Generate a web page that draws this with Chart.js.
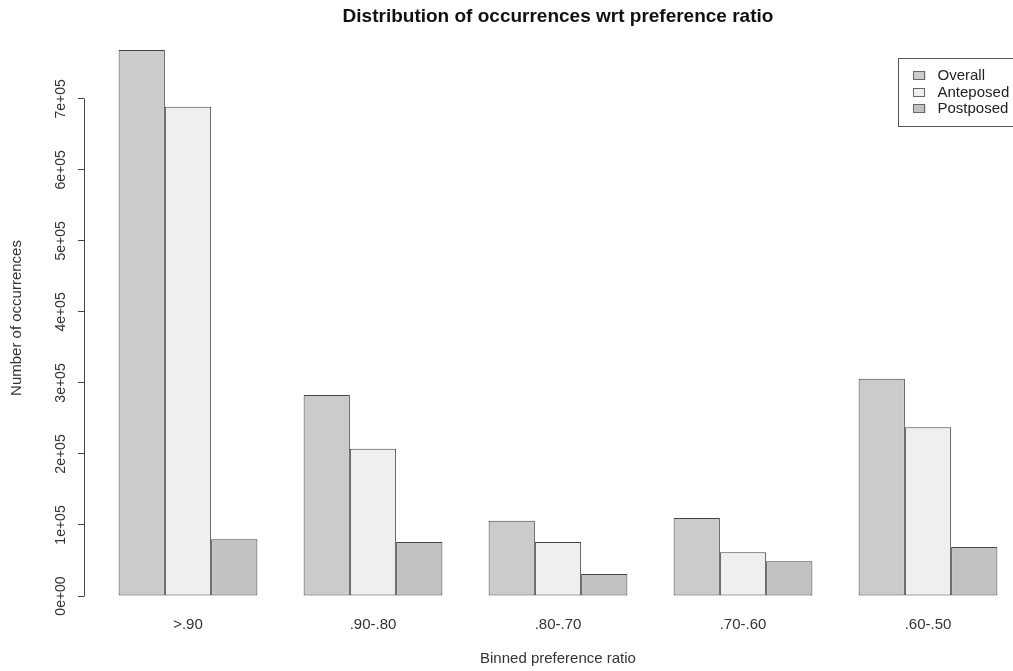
<!DOCTYPE html>
<html>
<head>
<meta charset="utf-8">
<script src="https://cdn.jsdelivr.net/npm/chart.js@4.4.0/dist/chart.umd.min.js"></script>
<style>
html, body { margin: 0; padding: 0; overflow: hidden; background: #fff; }
</style>
</head>
<body>
<canvas id="chart" width="1114" height="671"></canvas>
<script>
// data
var bins = ['>.90', '.90-.80', '.80-.70', '.70-.60', '.60-.50']
var overall = [769000, 283000, 106000, 110000, 306000]
var anteposed = [689000, 207500, 76000, 61500, 237500]
var postposed = [80000, 76000, 31000, 49000, 69000]
var y_ticks = [0, 100000, 200000, 300000, 400000, 500000, 600000, 700000]
var y_max = 783000

var font_family = "'Liberation Sans', Arial, Helvetica, sans-serif"

// R style labels: 0e+00, 1e+05 ...
function sciLabel(v){
    if (v == 0) return '0e+00'
    var exp = Math.floor(Math.log10(v))
    var mant = Math.round(v / Math.pow(10, exp) * 100) / 100
    return mant + 'e+' + (exp < 10 ? '0' + exp : exp)
}

// axis line only from first to last tick, like base R
var axisLine = {
    id: 'axisLine',
    afterDraw: function(chart){
        var s = chart.scales.y
        var ctx = chart.ctx
        var x = Math.floor(s.right) + 0.5
        var y0 = Math.floor(s.getPixelForValue(y_ticks[0])) + 0.5
        var y1 = Math.floor(s.getPixelForValue(y_ticks[y_ticks.length - 1])) + 0.5
        ctx.save()
        ctx.strokeStyle = '#444'
        ctx.lineWidth = 1
        ctx.beginPath()
        ctx.moveTo(x, y0)
        ctx.lineTo(x, y1)
        ctx.stroke()
        ctx.restore()
    }
}

// boxed legend in the top right corner of the plot
var boxLegend = {
    id: 'boxLegend',
    afterDraw: function(chart){
        var ctx = chart.ctx
        var area = chart.chartArea
        var left = area.right - 122
        var top = area.top + 18
        ctx.save()
        ctx.strokeStyle = '#555'
        ctx.lineWidth = 1
        ctx.strokeRect(Math.floor(left) + 0.5, Math.floor(top) + 0.5, 150, 68)
        ctx.font = '15px ' + font_family
        ctx.textBaseline = 'middle'
        chart.data.datasets.forEach(function(ds, i){
            var cy = Math.round(top + 17 + i * 16.5)
            ctx.fillStyle = ds.backgroundColor
            ctx.fillRect(left + 15, cy - 4, 12, 9)
            ctx.strokeStyle = '#666'
            ctx.strokeRect(Math.floor(left) + 15.5, cy - 3.5, 11, 8)
            ctx.fillStyle = '#222'
            ctx.fillText(ds.label, left + 39, cy + 1)
        })
        ctx.restore()
    }
}

var bar_border = '#444'

var chart = new Chart(document.getElementById('chart'), {
    type: 'bar',
    data: {
        labels: bins,
        datasets: [
            {label: 'Overall', data: overall, backgroundColor: '#cbcbcb', borderColor: bar_border, borderWidth: 1, borderSkipped: false},
            {label: 'Anteposed', data: anteposed, backgroundColor: '#efefef', borderColor: bar_border, borderWidth: 1, borderSkipped: false},
            {label: 'Postposed', data: postposed, backgroundColor: '#c2c2c2', borderColor: bar_border, borderWidth: 1, borderSkipped: false}
        ]
    },
    options: {
        responsive: false,
        animation: false,
        layout: {padding: {left: 0, right: 93.5, top: 0, bottom: 0}},
        datasets: {bar: {barPercentage: 1, categoryPercentage: 0.75}},
        plugins: {
            legend: {display: false},
            tooltip: {enabled: false},
            title: {
                display: true,
                fullSize: false,
                text: 'Distribution of occurrences wrt preference ratio',
                color: '#111',
                font: {family: font_family, size: 19, weight: 'bold'},
                padding: {top: 5.6, bottom: 11.6}
            }
        },
        scales: {
            x: {
                type: 'category',
                offset: true,
                afterFit: function(s){ s.height = 75 },
                grid: {display: false, drawTicks: false},
                border: {display: false},
                ticks: {
                    padding: 20,
                    autoSkip: false,
                    maxRotation: 0,
                    color: '#333',
                    font: {family: font_family, size: 15}
                },
                title: {
                    display: true,
                    text: 'Binned preference ratio',
                    color: '#333',
                    font: {family: font_family, size: 15},
                    padding: {top: 10, bottom: 3}
                }
            },
            y: {
                position: 'left',
                weight: 1,
                min: 0,
                max: y_max,
                afterBuildTicks: function(s){
                    s.ticks = y_ticks.map(function(v){ return {value: v} })
                },
                afterFit: function(s){ s.width = 84 },
                grid: {drawOnChartArea: false, drawTicks: true, tickLength: 6, color: '#444'},
                border: {display: false},
                ticks: {
                    minRotation: 90,
                    maxRotation: 90,
                    crossAlign: 'center',
                    padding: -3,
                    color: '#333',
                    font: {family: font_family, size: 14},
                    callback: function(v){ return sciLabel(v) }
                },
                title: {
                    display: true,
                    text: 'Number of occurrences',
                    color: '#333',
                    font: {family: font_family, size: 15},
                    padding: {top: 8, bottom: 0}
                }
            },
            // empty gap between axis line and first bar group
            y_gap: {
                position: 'left',
                weight: 0,
                grid: {display: false},
                border: {display: false},
                ticks: {display: false},
                afterFit: function(s){ s.width = 11.5 }
            }
        }
    },
    plugins: [axisLine, boxLegend]
})
</script>
</body>
</html>
